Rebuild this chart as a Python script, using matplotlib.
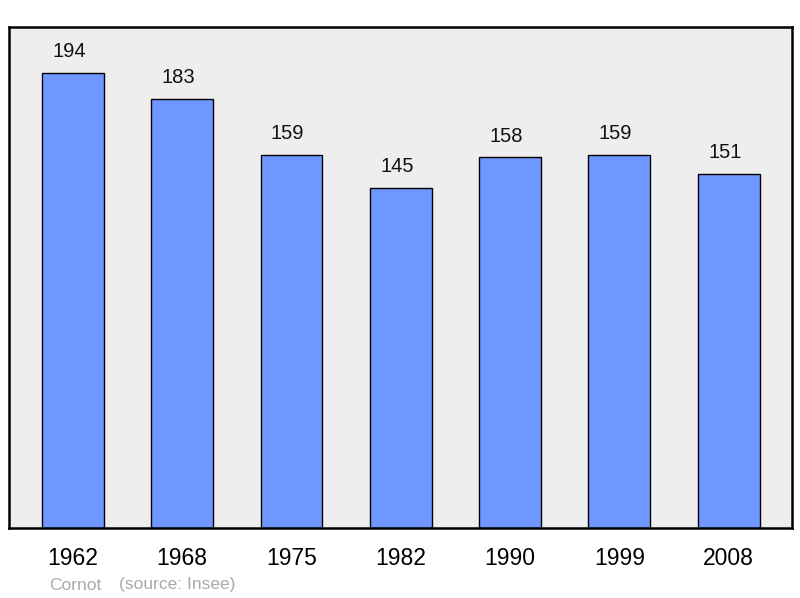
import matplotlib.pyplot as plt

years = ['1962', '1968', '1975', '1982', '1990', '1999', '2008']
population = [194, 183, 159, 145, 158, 159, 151]

plt.rcParams['font.family'] = ['Liberation Sans', 'DejaVu Sans']

fig = plt.figure(figsize=(8, 5.98), dpi=100)
ax = fig.add_axes([9 / 800, 70 / 598, 783 / 800, 501 / 598])
ax.set_facecolor('#eeeeee')

x = range(len(years))
ax.bar(x, population, width=0.567, color='#7097ff', edgecolor='black', linewidth=1)

# value labels sit a little left of the bar centres in the original
for xi, v in zip(x, population):
    ax.text(xi - 0.035, v + 9, str(v), ha='center', va='center', fontsize=14.5, color='#111111')

ax.set_xlim(-0.585, 6.58)
ax.set_ylim(0, 213.6)
ax.set_yticks([])
ax.set_xticks(list(x))
ax.set_xticklabels(years, fontsize=16.5)
ax.tick_params(axis='x', length=0, pad=14)
for s in ax.spines.values():
    s.set_linewidth(1.8)

fig.text(49 / 800, 1 - 585 / 598, 'Cornot', fontsize=12.5, color='#aaaaaa', va='center', ha='left')
fig.text(119 / 800, 1 - 585 / 598, '(source: Insee)', fontsize=12.5, color='#aaaaaa',
         va='center', ha='left')

fig.savefig('out.png')
